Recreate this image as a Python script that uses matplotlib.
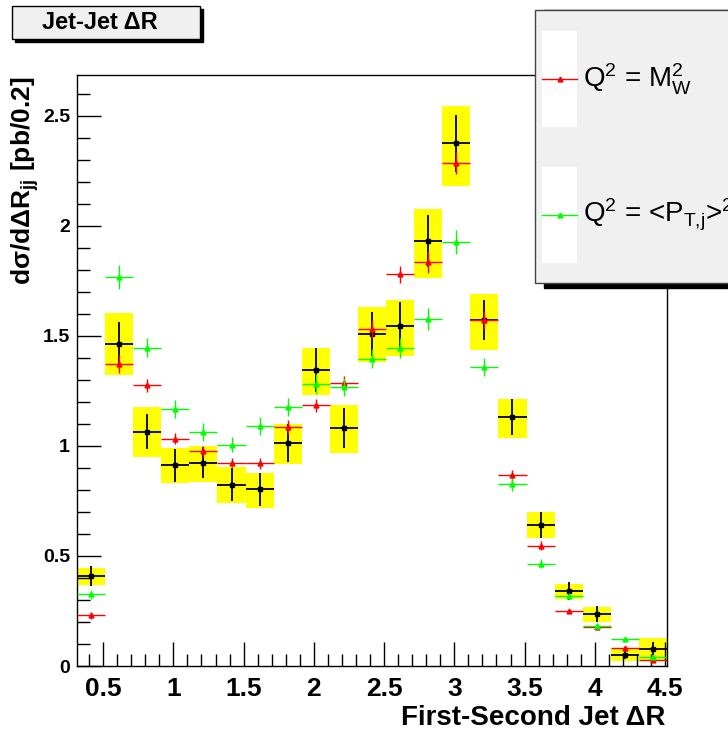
import numpy as np
import matplotlib
matplotlib.use("Agg")
import matplotlib.pyplot as plt
from matplotlib.patches import Rectangle
from matplotlib.ticker import MultipleLocator

plt.rcParams['font.family'] = ['Liberation Sans', 'DejaVu Sans']
plt.rcParams['mathtext.default'] = 'regular'

# binning: 21 bins of width 0.2
bin_lo = 0.314
bin_w = 0.2
nbins = 21
centers = bin_lo + bin_w * (np.arange(nbins) + 0.5)

# data (black) with stat errors and yellow systematic band
data_y = [0.409, 1.465, 1.065, 0.912, 0.924, 0.823, 0.802, 1.013, 1.346, 1.081, 1.509,
          1.543, 1.931, 2.374, 1.573, 1.131, 0.641, 0.340, 0.236, 0.050, 0.079]
data_err = [0.045, 0.10, 0.08, 0.075, 0.07, 0.075, 0.075, 0.085, 0.10, 0.09, 0.10,
            0.11, 0.12, 0.13, 0.09, 0.08, 0.06, 0.04, 0.035, 0.02, 0.03]
band_lo = [0.370, 1.320, 0.948, 0.832, 0.836, 0.740, 0.718, 0.918, 1.230, 0.968, 1.381,
           1.407, 1.765, 2.182, 1.434, 1.036, 0.582, 0.305, 0.201, 0.021, 0.027]
band_hi = [0.445, 1.602, 1.175, 0.989, 0.998, 0.903, 0.877, 1.100, 1.443, 1.184, 1.630,
           1.665, 2.078, 2.545, 1.688, 1.215, 0.699, 0.372, 0.266, 0.076, 0.126]

# Q^2 = M_W^2 (red)
red_y = [0.230, 1.372, 1.275, 1.033, 0.975, 0.924, 0.921, 1.086, 1.184, 1.287, 1.530,
         1.779, 1.835, 2.285, 1.573, 0.867, 0.546, 0.250, 0.178, 0.083, 0.027]
red_err = [0.015, 0.04, 0.03, 0.025, 0.025, 0.02, 0.025, 0.03, 0.03, 0.03, 0.04,
           0.04, 0.05, 0.05, 0.04, 0.025, 0.02, 0.01, 0.01, 0.008, 0.006]

# Q^2 = <P_T,j>^2 (green)
green_y = [0.326, 1.766, 1.447, 1.167, 1.062, 1.006, 1.090, 1.177, 1.283, 1.267, 1.397,
           1.443, 1.576, 1.925, 1.358, 0.826, 0.464, 0.318, 0.183, 0.122, 0.042]
green_err = [0.02, 0.055, 0.045, 0.04, 0.04, 0.035, 0.04, 0.04, 0.045, 0.04, 0.045,
             0.045, 0.05, 0.055, 0.04, 0.03, 0.02, 0.015, 0.012, 0.008, 0.006]

x_ticks = [0.5, 1, 1.5, 2, 2.5, 3, 3.5, 4, 4.5]
y_ticks = [0, 0.5, 1, 1.5, 2, 2.5]

fig = plt.figure(figsize=(7.28, 7.31), dpi=100)
ax = fig.add_axes([0.1058, 0.0889, 0.8104, 0.8085])

# yellow band
ax.bar(centers, np.array(band_hi) - np.array(band_lo), bottom=band_lo, width=bin_w,
       color='#ffff00', linewidth=0, zorder=1)

# data points
ax.errorbar(centers, data_y, xerr=bin_w / 2, yerr=data_err, fmt='s', color='black',
            ms=3.5, elinewidth=1.3, capsize=0, zorder=3)
ax.errorbar(centers, red_y, xerr=bin_w / 2, yerr=red_err, fmt='^', color='#ff0000',
            ms=3.5, elinewidth=1.0, capsize=0, zorder=4)
ax.errorbar(centers, green_y, xerr=bin_w / 2, yerr=green_err, fmt='^', color='#00ff00',
            ms=3.5, elinewidth=1.0, capsize=0, zorder=5)

ax.set_xlim(bin_lo, bin_lo + nbins * bin_w)
ax.set_ylim(0, 2.685)
ax.set_xticks(x_ticks)
ax.set_xticklabels(['0.5', '1', '1.5', '2', '2.5', '3', '3.5', '4', '4.5'],
                   fontsize=19, fontweight='bold')
ax.set_yticks(y_ticks)
ax.set_yticklabels(['0', '0.5', '1', '1.5', '2', '2.5'], fontsize=14, fontweight='bold')
ax.xaxis.set_minor_locator(MultipleLocator(0.1))
ax.yaxis.set_minor_locator(MultipleLocator(0.1))
ax.tick_params(which='both', direction='in', top=False, right=False, width=1)
ax.tick_params(which='major', length=17)
ax.tick_params(which='minor', length=9)
ax.tick_params(axis='x', pad=8)
ax.tick_params(axis='y', pad=5)
for s in ax.spines.values():
    s.set_linewidth(1.0)

# axis titles
fig.text(0.9135, 0.0, 'First-Second Jet ΔR', fontsize=20, fontweight='bold',
         ha='right', va='bottom', transform=fig.transFigure)
fig.text(0.035, 0.895, 'dσ/dΔR$_{jj}$ [pb/0.2]', fontsize=19, fontweight='bold',
         rotation=90, ha='center', va='top')

# title box with shadow
fig.patches.append(Rectangle((15 / 728, 1 - 42 / 731), 188 / 728, 33 / 731,
                             transform=fig.transFigure, facecolor='black',
                             edgecolor='black', zorder=1))
fig.patches.append(Rectangle((12 / 728, 1 - 39 / 731), 188 / 728, 33 / 731,
                             transform=fig.transFigure, facecolor='#f0f0f0',
                             edgecolor='black', linewidth=1, zorder=2))
fig.text(100 / 728, 1 - 22.5 / 731, 'Jet-Jet ΔR', fontsize=17, fontweight='bold',
         ha='center', va='center', zorder=3)

# legend box with shadow
fig.patches.append(Rectangle((544 / 728, 1 - 288 / 731), 200 / 728, 278 / 731,
                             transform=fig.transFigure, facecolor='black',
                             edgecolor='black', zorder=6))
fig.patches.append(Rectangle((535 / 728, 1 - 283 / 731), 200 / 728, 273 / 731,
                             transform=fig.transFigure, facecolor='#f0f0f0',
                             edgecolor='#444444', linewidth=1, zorder=7))
legend_labels = ['Q$^2$ = M$_W^2$', 'Q$^2$ = <P$_{T{,}j}$>$^2$']
legend_colors = ['#ff0000', '#00ff00']
legend_rows = [31, 167]
for lab, col, top in zip(legend_labels, legend_colors, legend_rows):
    fig.patches.append(Rectangle((542 / 728, 1 - (top + 96) / 731), 35 / 728, 96 / 731,
                                 transform=fig.transFigure, facecolor='white',
                                 edgecolor='none', zorder=8))
    ym = 1 - (top + 48) / 731
    fig.lines.append(plt.Line2D([542 / 728, 577 / 728], [ym, ym], transform=fig.transFigure,
                                color=col, lw=1.0, marker=None, zorder=9))
    fig.lines.append(plt.Line2D([559.5 / 728], [ym], transform=fig.transFigure,
                                color=col, marker='^', ms=3.5, lw=0, zorder=10))
    fig.text(583 / 728, ym, lab, fontsize=20, ha='left', va='center', zorder=10)

fig.savefig('out.png', dpi=100)
